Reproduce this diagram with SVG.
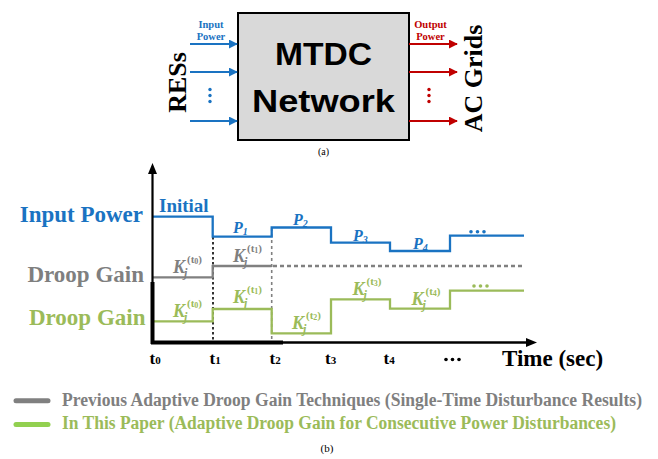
<svg xmlns="http://www.w3.org/2000/svg" width="658" height="459" viewBox="0 0 658 459">
  <defs>
    <marker id="arrowBlue" viewBox="0 0 10 10" refX="9" refY="5" markerWidth="4.5" markerHeight="4.5" markerUnits="strokeWidth" orient="auto">
      <path d="M0,0 L10,5 L0,10 z" fill="#1a73c2"/>
    </marker>
    <marker id="arrowRed" viewBox="0 0 10 10" refX="9" refY="5" markerWidth="4.5" markerHeight="4.5" markerUnits="strokeWidth" orient="auto">
      <path d="M0,0 L10,5 L0,10 z" fill="#c00000"/>
    </marker>
  </defs>
  <style>
    .serif { font-family: "Liberation Serif", "Times New Roman", serif; font-weight: bold; }
    .sans { font-family: "Liberation Sans", Arial, sans-serif; font-weight: bold; }
    .blue { fill: #1a73c2; }
    .red { fill: #c00000; }
    .gray { fill: #7f7f7f; }
    .green { fill: #9bbb59; }
    .inArrow { stroke: #1a73c2; stroke-width: 2; fill: none; marker-end: url(#arrowBlue); }
    .outArrow { stroke: #c00000; stroke-width: 2; fill: none; marker-end: url(#arrowRed); }
    .kk { font-family: "Liberation Serif", "Times New Roman", serif; font-weight: bold; font-style: italic; font-size: 18px; }
    .kj { font-family: "Liberation Serif", "Times New Roman", serif; font-weight: bold; font-style: italic; font-size: 12px; }
    .ks { font-family: "Liberation Serif", "Times New Roman", serif; font-weight: bold; font-size: 11px; }
    .ksd { font-size: 8px; }
    .pp { font-family: "Liberation Serif", "Times New Roman", serif; font-weight: bold; font-style: italic; font-size: 16px; }
    .ps { font-size: 10px; }
    .tick { font-family: "Liberation Serif", "Times New Roman", serif; font-weight: bold; font-size: 17px; fill: #000; }
    .tsub { font-size: 11px; }
    .trace { fill: none; stroke-width: 2.3; }
  </style>

  <!-- (a) block diagram -->
  <g id="mtdc">
    <rect x="238" y="13" width="171" height="127" fill="#d9d9d9" stroke="#000" stroke-width="2"/>
    <text class="sans" x="323.5" y="65" font-size="32" text-anchor="middle" textLength="97" lengthAdjust="spacingAndGlyphs">MTDC</text>
    <text class="sans" x="323.5" y="111.5" font-size="32" text-anchor="middle" textLength="143" lengthAdjust="spacingAndGlyphs">Network</text>
  </g>
  <g id="ress">
    <text class="serif" font-size="26" text-anchor="middle" transform="translate(186,82.5) rotate(-90)">RESs</text>
    <text class="serif blue" x="211" y="28" font-size="10.5" text-anchor="middle">Input</text>
    <text class="serif blue" x="211" y="40" font-size="10.5" text-anchor="middle">Power</text>
    <circle cx="210" cy="89.5" r="1.7" class="blue"/>
    <circle cx="210" cy="95.5" r="1.7" class="blue"/>
    <circle cx="210" cy="101.5" r="1.7" class="blue"/>
  </g>
  <g id="ac-grids">
    <text class="serif" font-size="26" text-anchor="middle" transform="translate(482,78.5) rotate(-90)">AC Grids</text>
    <text class="serif red" x="430.5" y="28" font-size="10.5" text-anchor="middle">Output</text>
    <text class="serif red" x="430.5" y="40" font-size="10.5" text-anchor="middle">Power</text>
    <circle cx="429" cy="89.5" r="1.7" class="red"/>
    <circle cx="429" cy="95.5" r="1.7" class="red"/>
    <circle cx="429" cy="101.5" r="1.7" class="red"/>
  </g>
  <g id="connectors">
    <line class="inArrow" x1="190" y1="44" x2="237" y2="44"/>
    <line class="inArrow" x1="190" y1="72" x2="237" y2="72"/>
    <line class="inArrow" x1="190" y1="121" x2="237" y2="121"/>
    <line class="outArrow" x1="409" y1="44" x2="457" y2="44"/>
    <line class="outArrow" x1="409" y1="72" x2="457" y2="72"/>
    <line class="outArrow" x1="409" y1="121" x2="457" y2="121"/>
  </g>
  <text x="323.5" y="155" font-family="'Liberation Serif', 'Times New Roman', serif" font-size="10" text-anchor="middle">(a)</text>

  <!-- (b) timing chart -->
  <g id="chart">
    <!-- row labels -->
    <text class="serif blue" x="143" y="222" font-size="23" text-anchor="end">Input Power</text>
    <text class="serif gray" x="144" y="281.5" font-size="23" text-anchor="end">Droop Gain</text>
    <text class="serif green" x="145.5" y="325" font-size="23" text-anchor="end">Droop Gain</text>

    <!-- time markers -->
    <line x1="213" y1="237" x2="213" y2="341" stroke="#000" stroke-width="1.6" stroke-dasharray="2.5 2.5"/>
    <line x1="271.7" y1="228" x2="271.7" y2="341" stroke="#808080" stroke-width="1.6" stroke-dasharray="3 3"/>

    <!-- traces -->
    <path class="trace" stroke="#1a73c2" d="M153,216.7 H212.7 V236.7 H271.7 V227.5 H331 V242.7 H390 V251 H450 V235.7 H524"/>
    <path class="trace" stroke="#808080" d="M153,277.3 H212.7 V266 H271.7"/>
    <path class="trace" stroke="#808080" stroke-width="2" stroke-dasharray="4 3" d="M273,266 H525"/>
    <path class="trace" stroke="#9bbb59" d="M153,321.3 H212.7 V309 H271.7 V333.3 H331 V299.3 H390 V308.7 H450 V290.7 H524"/>

    <!-- axes -->
    <line x1="152.5" y1="342" x2="152.5" y2="172" stroke="#000" stroke-width="2.2"/>
    <polygon points="152.5,163 148,174 157,174" fill="#000"/>
    <line x1="152.5" y1="282" x2="152.5" y2="344" stroke="#000" stroke-width="4"/>
    <line x1="151" y1="342.5" x2="528" y2="342.5" stroke="#000" stroke-width="2.4"/>
    <line x1="151" y1="342.5" x2="283" y2="342.5" stroke="#000" stroke-width="4"/>
    <polygon points="537,342.5 526,338 526,347" fill="#000"/>

    <!-- input power labels -->
    <text class="serif blue" x="159" y="211.5" font-size="19">Initial</text>
    <text class="pp blue" x="233" y="233">P<tspan class="ps" dy="2">1</tspan></text>
    <text class="pp blue" x="293" y="225">P<tspan class="ps" dy="2">2</tspan></text>
    <text class="pp blue" x="353" y="241">P<tspan class="ps" dy="2">3</tspan></text>
    <text class="pp blue" x="413" y="248.5">P<tspan class="ps" dy="2">4</tspan></text>
    <circle cx="471" cy="231.7" r="1.8" class="blue"/>
    <circle cx="477.5" cy="231.7" r="1.8" class="blue"/>
    <circle cx="484" cy="231.7" r="1.8" class="blue"/>

    <!-- previous droop gain labels -->
    <g class="gray">
      <text class="kk" x="173" y="273">K</text>
      <text class="kj" x="184" y="277">j</text>
      <text class="ks" x="187" y="263">(t<tspan class="ksd" dy="1">0</tspan><tspan dy="-1">)</tspan></text>
      <text class="kk" x="233" y="261.5">K</text>
      <text class="kj" x="244" y="265.5">j</text>
      <text class="ks" x="247" y="251.5">(t<tspan class="ksd" dy="1">1</tspan><tspan dy="-1">)</tspan></text>
    </g>

    <!-- proposed droop gain labels -->
    <g class="green">
      <text class="kk" x="173" y="317">K</text>
      <text class="kj" x="184" y="321">j</text>
      <text class="ks" x="187" y="307">(t<tspan class="ksd" dy="1">0</tspan><tspan dy="-1">)</tspan></text>
      <text class="kk" x="233" y="303">K</text>
      <text class="kj" x="244" y="307">j</text>
      <text class="ks" x="247" y="293">(t<tspan class="ksd" dy="1">1</tspan><tspan dy="-1">)</tspan></text>
      <text class="kk" x="292" y="328.5">K</text>
      <text class="kj" x="303" y="332.5">j</text>
      <text class="ks" x="306" y="318.5">(t<tspan class="ksd" dy="1">2</tspan><tspan dy="-1">)</tspan></text>
      <text class="kk" x="352.5" y="295">K</text>
      <text class="kj" x="363.5" y="299">j</text>
      <text class="ks" x="366.5" y="285">(t<tspan class="ksd" dy="1">3</tspan><tspan dy="-1">)</tspan></text>
      <text class="kk" x="411.5" y="305">K</text>
      <text class="kj" x="422.5" y="309">j</text>
      <text class="ks" x="425.5" y="295">(t<tspan class="ksd" dy="1">4</tspan><tspan dy="-1">)</tspan></text>
      <circle cx="474" cy="286" r="1.8"/>
      <circle cx="480.5" cy="286" r="1.8"/>
      <circle cx="487" cy="286" r="1.8"/>
    </g>

    <!-- time axis labels -->
    <text class="tick" x="149.5" y="363.5">t<tspan class="tsub">0</tspan></text>
    <text class="tick" x="209.5" y="363.5">t<tspan class="tsub">1</tspan></text>
    <text class="tick" x="269.5" y="363.5">t<tspan class="tsub">2</tspan></text>
    <text class="tick" x="325" y="363.5">t<tspan class="tsub">3</tspan></text>
    <text class="tick" x="383.5" y="363.5">t<tspan class="tsub">4</tspan></text>
    <circle cx="446" cy="359.5" r="1.8"/>
    <circle cx="452.5" cy="359.5" r="1.8"/>
    <circle cx="459" cy="359.5" r="1.8"/>
    <text class="serif" x="502" y="366" font-size="23">Time (sec)</text>
  </g>

  <!-- legend -->
  <g id="legend">
    <line x1="16" y1="400.7" x2="48" y2="400.7" stroke="#808080" stroke-width="5" stroke-linecap="round"/>
    <text class="serif gray" x="62" y="405.7" font-size="18" textLength="580" lengthAdjust="spacingAndGlyphs">Previous Adaptive Droop Gain Techniques (Single-Time Disturbance Results)</text>
    <line x1="16" y1="424.5" x2="48" y2="424.5" stroke="#92d050" stroke-width="5" stroke-linecap="round"/>
    <text class="serif green" x="62" y="429" font-size="18" textLength="554" lengthAdjust="spacingAndGlyphs">In This Paper (Adaptive Droop Gain for Consecutive Power Disturbances)</text>
  </g>
  <text x="327" y="452" font-family="'Liberation Serif', 'Times New Roman', serif" font-size="11" text-anchor="middle">(b)</text>
</svg>
